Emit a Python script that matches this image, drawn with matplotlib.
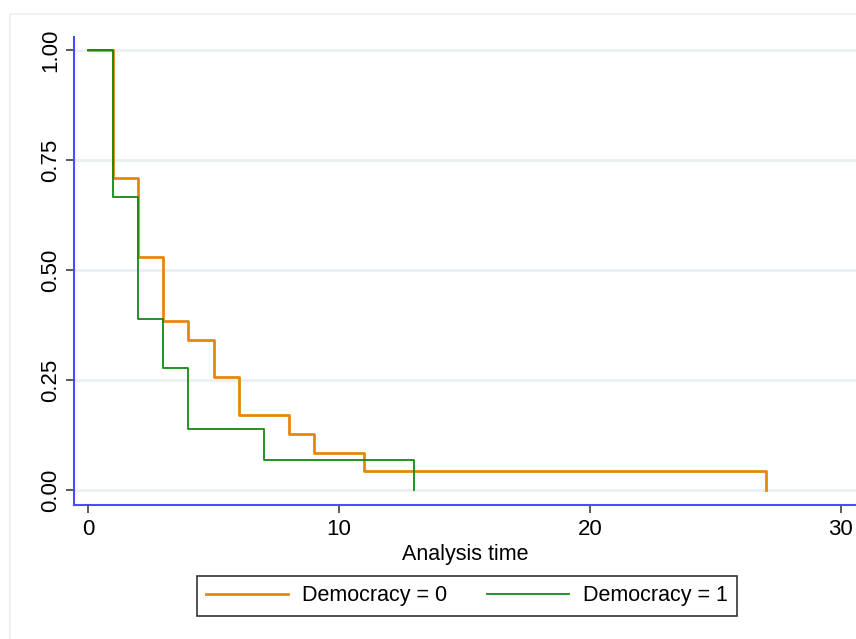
import matplotlib.pyplot as plt
from matplotlib.patches import Rectangle

plt.rcParams['font.family'] = ['Liberation Sans', 'DejaVu Sans']

# Kaplan-Meier survival estimates
t_dem0 = [0, 1, 2, 3, 4, 5, 6, 8, 9, 11, 27]
s_dem0 = [1.0, 0.709, 0.530, 0.385, 0.342, 0.256, 0.171, 0.128, 0.085, 0.043, 0.0]
t_dem1 = [0, 1, 2, 3, 4, 7, 13]
s_dem1 = [1.0, 0.667, 0.389, 0.278, 0.139, 0.069, 0.0]

x_ticks = [0, 10, 20, 30]
y_ticks = [0.0, 0.25, 0.5, 0.75, 1.0]
y_labels = ["0.00", "0.25", "0.50", "0.75", "1.00"]

W, H = 856, 639
fig = plt.figure(figsize=(W / 100, H / 100), dpi=100)
fig.patch.set_facecolor("white")

# faint outer frame of the graph region
fig.patches.append(Rectangle((10 / W, -0.05), 1.1, (H - 14) / H + 0.05,
                             transform=fig.transFigure, fill=False,
                             edgecolor="#eef0f0", lw=1.2))

ax = fig.add_axes([74 / W, 134 / H, (W - 74) / W, (505 - 37) / H])
ax.set_facecolor("white")

ax.step(t_dem0, s_dem0, where="post", color="#e8860c", lw=2.0, label="Democracy = 0")
ax.step(t_dem1, s_dem1, where="post", color="#108a10", lw=1.3, label="Democracy = 1")

ax.set_xlim(-0.56, 30.6)
ax.set_ylim(-0.034, 1.0295)

for y in y_ticks:
    ax.axhline(y, color="#eaf0f2", lw=2.0, zorder=0)

ax.set_xticks(x_ticks)
ax.set_yticks(y_ticks)
ax.set_yticklabels(y_labels, rotation=90, va="center")
ax.tick_params(axis="both", labelsize=16, length=6, width=1.2, color="#404040")
ax.tick_params(axis="y", pad=3)
ax.tick_params(axis="x", pad=4)

for side in ["top", "right"]:
    ax.spines[side].set_visible(False)
for side in ["left", "bottom"]:
    ax.spines[side].set_color("#4c4cff")
    ax.spines[side].set_linewidth(1.5)

ax.set_xlabel("Analysis time", fontsize=15.5, labelpad=3)

leg = fig.legend(loc="center", bbox_to_anchor=(467 / W, 1 - 596 / H), ncol=2,
                 fontsize=15.5, frameon=True, fancybox=False, edgecolor="black",
                 handlelength=3.8, handletextpad=0.65, columnspacing=1.85,
                 borderpad=0.45, borderaxespad=0)
leg.get_frame().set_linewidth(1.2)

plt.savefig("out.png", dpi=100)
